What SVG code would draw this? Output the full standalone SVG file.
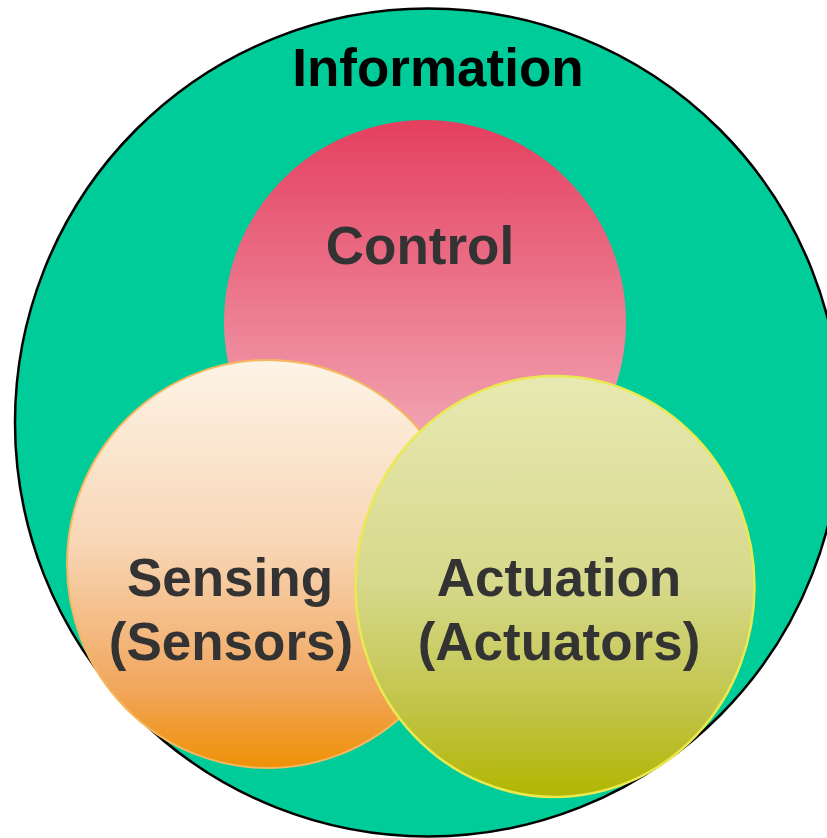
<svg xmlns="http://www.w3.org/2000/svg" width="827" height="838" viewBox="0 0 827 838">
  <style>
    .lbl { font-family: "Liberation Sans", Arial, sans-serif; font-weight: bold; font-size: 53px; fill: #333333; text-anchor: middle; }
    .title { font-family: "Liberation Sans", Arial, sans-serif; font-weight: bold; font-size: 53px; fill: #000000; text-anchor: middle; }
  </style>
  <defs>
    <linearGradient id="gControl" x1="0" y1="0" x2="0" y2="1">
      <stop offset="0" stop-color="#E43F5E"/>
      <stop offset="1" stop-color="#F5BFC9"/>
    </linearGradient>
    <linearGradient id="gSensing" x1="0" y1="0" x2="0" y2="1">
      <stop offset="0" stop-color="#FDF4E6"/>
      <stop offset="0.45" stop-color="#F8D6B6"/>
      <stop offset="0.8" stop-color="#F1A75E"/>
      <stop offset="1" stop-color="#EF9006"/>
    </linearGradient>
    <linearGradient id="gActuation" x1="0" y1="0" x2="0" y2="1">
      <stop offset="0" stop-color="#E8E9B3"/>
      <stop offset="0.5" stop-color="#D6D88A"/>
      <stop offset="0.8" stop-color="#C0C344"/>
      <stop offset="1" stop-color="#B2B600"/>
    </linearGradient>
  </defs>
  <rect width="827" height="838" fill="#FFFFFF"/>
  <g id="information">
    <ellipse cx="428" cy="422.5" rx="413" ry="414" fill="#00CC99" stroke="#000000" stroke-width="2.5"/>
    <text class="title" x="438" y="86">Information</text>
  </g>
  <g id="control">
    <ellipse cx="425" cy="322" rx="201" ry="202" fill="url(#gControl)"/>
    <text class="lbl" x="420" y="264">Control</text>
  </g>
  <g id="sensing">
    <ellipse cx="268" cy="564" rx="201" ry="204" fill="url(#gSensing)" stroke="#F5B860" stroke-width="2"/>
    <text class="lbl" x="230" y="596">Sensing</text>
    <text class="lbl" x="231" y="660">(Sensors)</text>
  </g>
  <g id="actuation">
    <ellipse cx="555" cy="586.5" rx="199.5" ry="210.5" fill="url(#gActuation)" stroke="#EAEA50" stroke-width="2.5"/>
    <text class="lbl" x="559" y="596">Actuation</text>
    <text class="lbl" x="559" y="660">(Actuators)</text>
  </g>
  <g id="connectors"/>
</svg>
